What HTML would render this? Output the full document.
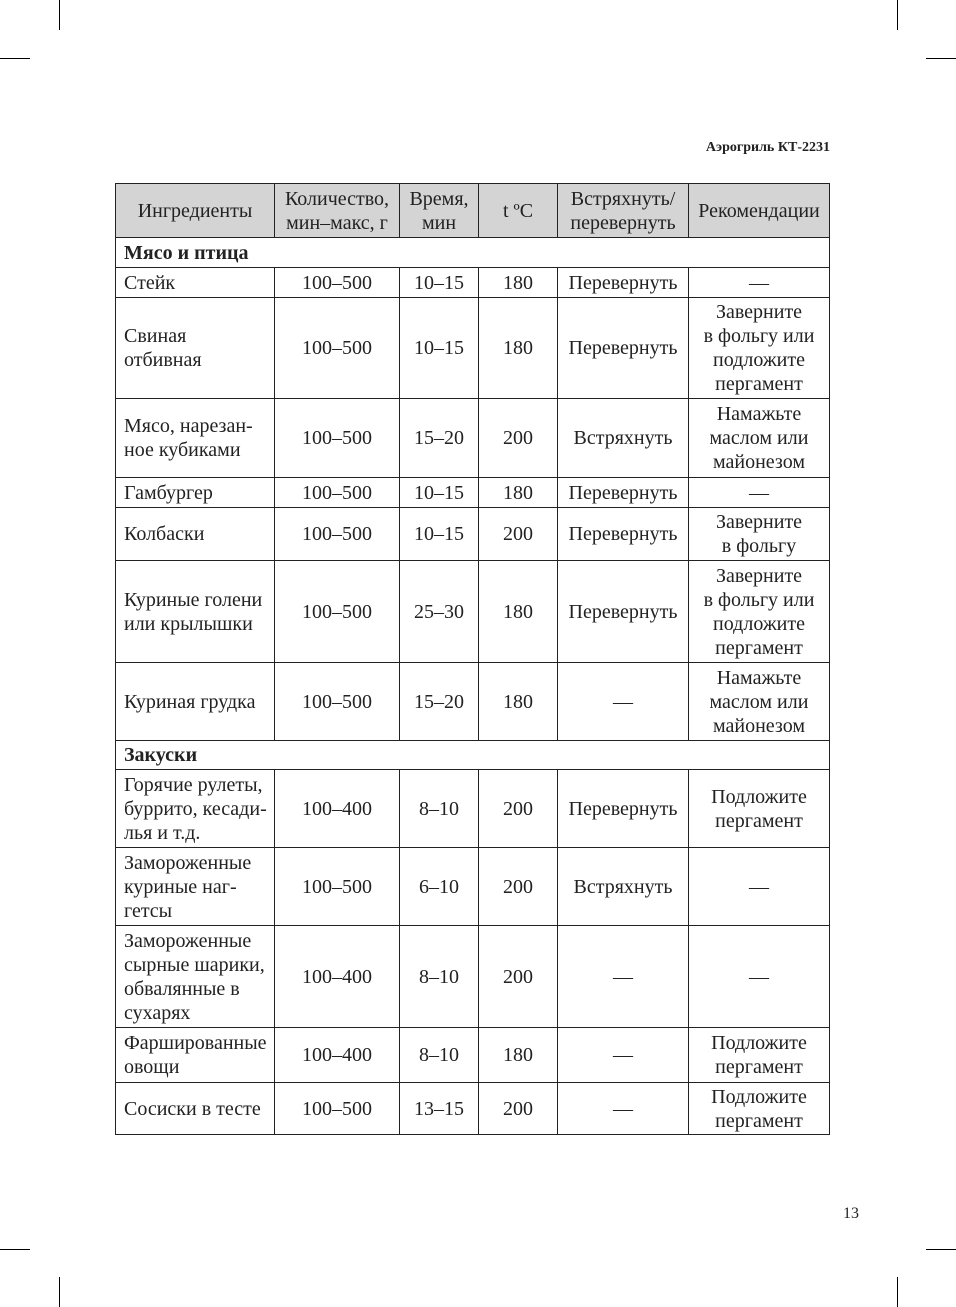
<!DOCTYPE html><html><head><meta charset="utf-8"><style>
body{margin:0;width:956px;height:1307px;background:#fff;position:relative;font-family:"Liberation Serif",serif;color:#222;}
.m{position:absolute;background:#000;}
table{position:absolute;left:115px;top:183px;border-collapse:collapse;table-layout:fixed;width:714px;font-size:20px;line-height:24px;}
td{border:1.3px solid #222;text-align:center;vertical-align:middle;padding:0;white-space:nowrap;}
td.l{text-align:left;padding-left:8px;}
tr.h td{background:#d4d4d4;}
td.s{font-weight:bold;text-align:left;padding-left:8px;}
</style></head><body>
<div class="m" style="left:59px;top:0;width:1px;height:30px"></div>
<div class="m" style="left:897px;top:0;width:1px;height:30px"></div>
<div class="m" style="left:59px;top:1277px;width:1px;height:30px"></div>
<div class="m" style="left:897px;top:1277px;width:1px;height:30px"></div>
<div class="m" style="left:0;top:58px;width:30px;height:1px"></div>
<div class="m" style="left:926px;top:58px;width:30px;height:1px"></div>
<div class="m" style="left:0;top:1249px;width:30px;height:1px"></div>
<div class="m" style="left:926px;top:1249px;width:30px;height:1px"></div>
<div style="position:absolute;left:680px;top:140px;width:150px;text-align:right;font-size:14px;font-weight:bold;">Аэрогриль КТ-2231</div>
<div style="position:absolute;left:820px;top:1205px;width:39px;text-align:right;font-size:16px;">13</div>
<table>
<colgroup><col style="width:159px"><col style="width:125px"><col style="width:79px"><col style="width:79px"><col style="width:131px"><col style="width:141px"></colgroup>
<tr class="h" style="height:54px"><td>Ингредиенты</td><td>Количество,<br>мин–макс, г</td><td>Время,<br>мин</td><td>t ºC</td><td>Встряхнуть/<br>перевернуть</td><td>Рекомендации</td></tr>
<tr style="height:30px"><td colspan="6" class="s">Мясо и птица</td></tr>
<tr style="height:30px"><td class="l">Стейк</td><td>100–500</td><td>10–15</td><td>180</td><td>Перевернуть</td><td>—</td></tr>
<tr style="height:101px"><td class="l">Свиная<br>отбивная</td><td>100–500</td><td>10–15</td><td>180</td><td>Перевернуть</td><td>Заверните<br>в фольгу или<br>подложите<br>пергамент</td></tr>
<tr style="height:79px"><td class="l">Мясо, нарезан-<br>ное кубиками</td><td>100–500</td><td>15–20</td><td>200</td><td>Встряхнуть</td><td>Намажьте<br>маслом или<br>майонезом</td></tr>
<tr style="height:30px"><td class="l">Гамбургер</td><td>100–500</td><td>10–15</td><td>180</td><td>Перевернуть</td><td>—</td></tr>
<tr style="height:53px"><td class="l">Колбаски</td><td>100–500</td><td>10–15</td><td>200</td><td>Перевернуть</td><td>Заверните<br>в фольгу</td></tr>
<tr style="height:102px"><td class="l">Куриные голени<br>или крылышки</td><td>100–500</td><td>25–30</td><td>180</td><td>Перевернуть</td><td>Заверните<br>в фольгу или<br>подложите<br>пергамент</td></tr>
<tr style="height:78px"><td class="l">Куриная грудка</td><td>100–500</td><td>15–20</td><td>180</td><td>—</td><td>Намажьте<br>маслом или<br>майонезом</td></tr>
<tr style="height:29px"><td colspan="6" class="s">Закуски</td></tr>
<tr style="height:78px"><td class="l">Горячие рулеты,<br>буррито, кесади-<br>лья и т.д.</td><td>100–400</td><td>8–10</td><td>200</td><td>Перевернуть</td><td>Подложите<br>пергамент</td></tr>
<tr style="height:78px"><td class="l">Замороженные<br>куриные наг-<br>гетсы</td><td>100–500</td><td>6–10</td><td>200</td><td>Встряхнуть</td><td>—</td></tr>
<tr style="height:102px"><td class="l">Замороженные<br>сырные шарики,<br>обвалянные в<br>сухарях</td><td>100–400</td><td>8–10</td><td>200</td><td>—</td><td>—</td></tr>
<tr style="height:55px"><td class="l">Фаршированные<br>овощи</td><td>100–400</td><td>8–10</td><td>180</td><td>—</td><td>Подложите<br>пергамент</td></tr>
<tr style="height:52px"><td class="l">Сосиски в тесте</td><td>100–500</td><td>13–15</td><td>200</td><td>—</td><td>Подложите<br>пергамент</td></tr>
</table>
</body></html>
